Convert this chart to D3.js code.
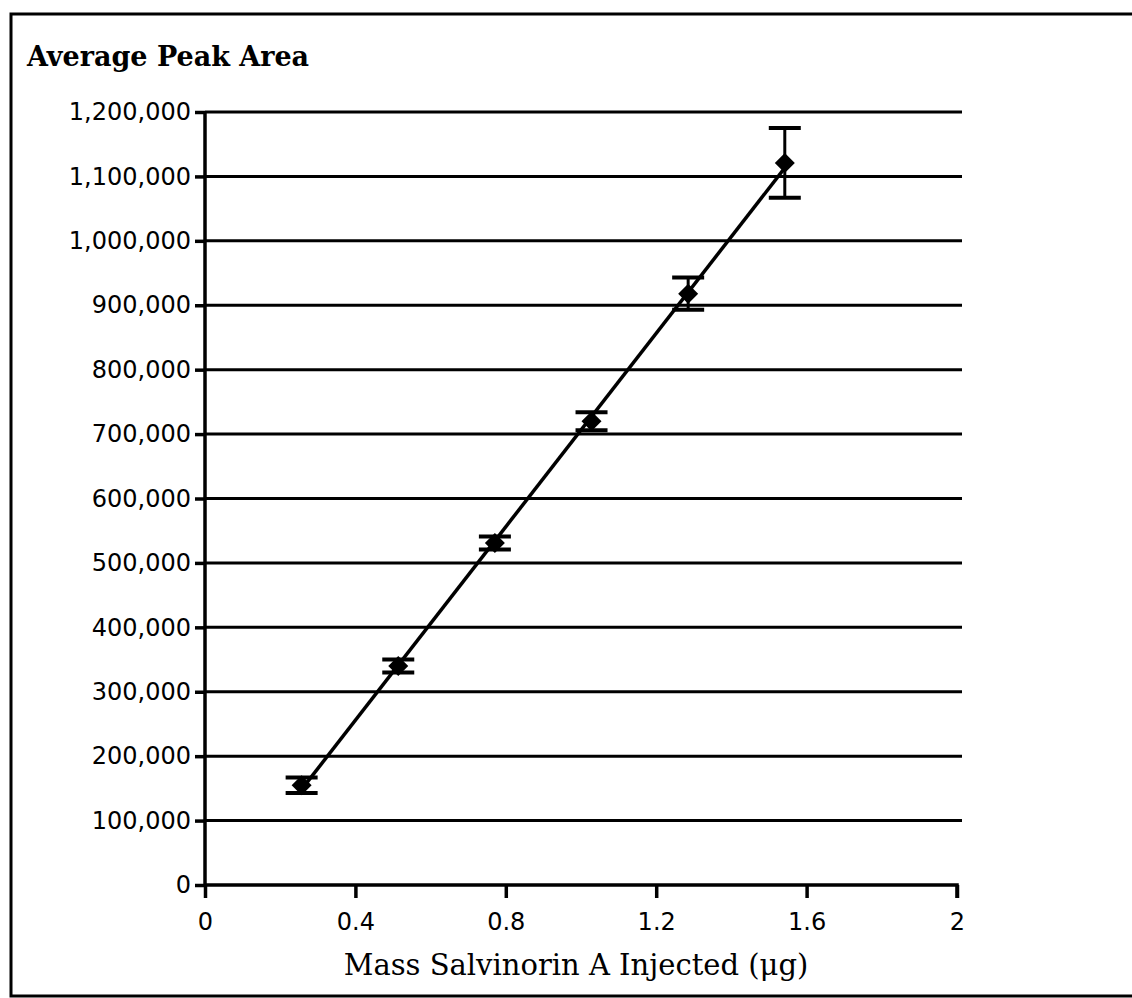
<!DOCTYPE html>
<html>
<head>
<meta charset="utf-8">
<script src="https://cdn.jsdelivr.net/npm/d3@7"></script>
<style>
  body { margin: 0; background: #fff; }
</style>
</head>
<body>
<script>
//Calibration curve, salvinorin A

var w = 1132;
var h = 998;

var mass = [0.257, 0.514, 0.771, 1.028, 1.285, 1.542];
var peakArea = [155000, 340000, 531000, 720000, 918000, 1121000];
var errBar = [12000, 10000, 10000, 14000, 25000, 54000];

var xTicks = [0, 0.4, 0.8, 1.2, 1.6, 2];
var yTicks = [0, 100000, 200000, 300000, 400000, 500000, 600000,
              700000, 800000, 900000, 1000000, 1100000, 1200000];

var yTitle = "Average Peak Area";
var xTitle = "Mass Salvinorin A Injected (\u03BCg)";

var plotLeft = 205, plotRight = 957, plotTop = 112, plotBottom = 885;

var xScale = d3.scaleLinear().domain([0, 2]).range([plotLeft, plotRight]);
var yScale = d3.scaleLinear().domain([0, 1200000]).range([plotBottom, plotTop]);

var svg = d3.select("body")
  .append("svg")
  .attr("width", w)
  .attr("height", h);

//outer frame (right edge runs off the page)
svg.append("rect")
  .attr("x", 11)
  .attr("y", 14)
  .attr("width", 1140)
  .attr("height", 982)
  .attr("fill", "none")
  .attr("stroke", "#000")
  .attr("stroke-width", 3);

//gridlines
svg.selectAll("line.grid")
  .data(yTicks.slice(1))
  .enter()
  .append("line")
  .attr("class", "grid")
  .attr("x1", plotLeft)
  .attr("x2", plotRight + 5)
  .attr("y1", function(d) { return yScale(d); })
  .attr("y2", function(d) { return yScale(d); })
  .attr("stroke", "#000")
  .attr("stroke-width", 3);

var yAxis = d3.axisLeft(yScale)
  .tickValues(yTicks)
  .tickSize(10)
  .tickPadding(4)
  .tickFormat(d3.format(","));

var xAxis = d3.axisBottom(xScale)
  .tickValues(xTicks)
  .tickSize(13)
  .tickPadding(15)
  .tickFormat(function(d) { return d; });

var gy = svg.append("g")
  .attr("transform", "translate(" + plotLeft + ",0)")
  .call(yAxis);

var gx = svg.append("g")
  .attr("transform", "translate(0," + plotBottom + ")")
  .call(xAxis);

[gx, gy].forEach(function(g) {
  g.select(".domain").attr("stroke", "#000").attr("stroke-width", 3.5);
  g.selectAll(".tick line").attr("stroke", "#000").attr("stroke-width", 3.5);
  g.selectAll(".tick text")
    .attr("fill", "#000")
    .attr("font-family", "DejaVu Sans")
    .attr("font-size", "24px");
});
gy.select(".domain").attr("d", "M0," + plotBottom + "V" + plotTop);
gx.select(".domain").attr("d", "M" + plotLeft + ",0H" + plotRight + "V13");

//least squares line through the points
var mx = d3.mean(mass), my = d3.mean(peakArea);
var sxy = d3.sum(mass, function(d, i) { return (d - mx) * (peakArea[i] - my); });
var sxx = d3.sum(mass, function(d) { return (d - mx) * (d - mx); });
var slope = sxy / sxx;
var icpt = my - slope * mx;
var x0 = mass[0], x1 = mass[mass.length - 1];

svg.append("line")
  .attr("x1", xScale(x0))
  .attr("y1", yScale(icpt + slope * x0))
  .attr("x2", xScale(x1))
  .attr("y2", yScale(icpt + slope * x1))
  .attr("stroke", "#000")
  .attr("stroke-width", 3.5);

var pts = svg.selectAll("g.pt")
  .data(mass)
  .enter()
  .append("g")
  .attr("class", "pt");

pts.append("line")
  .attr("x1", function(d) { return xScale(d); })
  .attr("x2", function(d) { return xScale(d); })
  .attr("y1", function(d, i) { return yScale(peakArea[i] + errBar[i]); })
  .attr("y2", function(d, i) { return yScale(peakArea[i] - errBar[i]); })
  .attr("stroke", "#000")
  .attr("stroke-width", 3);

[1, -1].forEach(function(sign) {
  pts.append("line")
    .attr("x1", function(d) { return xScale(d) - 16; })
    .attr("x2", function(d) { return xScale(d) + 16; })
    .attr("y1", function(d, i) { return yScale(peakArea[i] + sign * errBar[i]); })
    .attr("y2", function(d, i) { return yScale(peakArea[i] + sign * errBar[i]); })
    .attr("stroke", "#000")
    .attr("stroke-width", 4);
});

pts.append("path")
  .attr("d", function(d, i) {
    var cx = xScale(d), cy = yScale(peakArea[i]);
    return "M" + (cx - 10) + "," + cy + "L" + cx + "," + (cy - 10) +
      "L" + (cx + 10) + "," + cy + "L" + cx + "," + (cy + 10) + "Z";
  })
  .attr("fill", "#000");

//titles
svg.append("text")
  .text(yTitle)
  .attr("x", 27)
  .attr("y", 66)
  .attr("font-family", "DejaVu Serif")
  .attr("font-weight", "bold")
  .attr("font-size", "27px")
  .attr("fill", "#000");

svg.append("text")
  .text(xTitle)
  .attr("x", (plotLeft + plotRight) / 2 - 5)
  .attr("y", 975)
  .attr("text-anchor", "middle")
  .attr("font-family", "DejaVu Serif")
  .attr("font-size", "29px")
  .attr("fill", "#000");
</script>
</body>
</html>
